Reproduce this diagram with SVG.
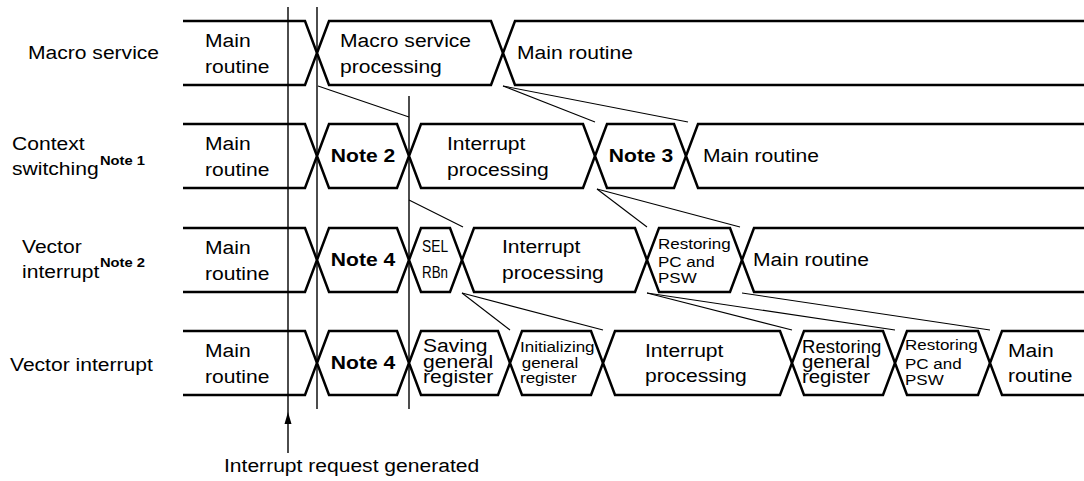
<svg xmlns="http://www.w3.org/2000/svg" width="1084" height="481" viewBox="0 0 1084 481">
<style>
.t{font-family:"Liberation Sans",Arial,Helvetica,sans-serif;font-size:18.6px;fill:#000}
.b{font-weight:bold}
.s15{font-size:15px}
.s13{font-size:13px}
.m{text-anchor:middle}
.seg{fill:#fff;stroke:#000;stroke-width:2.5;stroke-linejoin:miter}
.conn{stroke:#000;stroke-width:1.1;fill:none}
.vl{stroke:#000;stroke-width:1.4;fill:none}
</style>
<defs>
<marker id="ah" viewBox="0 0 8 12" refX="4" refY="0" markerWidth="8" markerHeight="12" markerUnits="userSpaceOnUse" orient="auto-start-reverse">
<path d="M0,12 L4,0 L8,12 Z" fill="#000"/>
</marker>
</defs>
<rect width="1084" height="481" fill="#fff"/>

<g id="row-labels">
<text class="t" transform="translate(28,0) scale(1.133,1)" x="0" y="59.5">Macro service</text>
<text class="t" transform="translate(12,0) scale(1.133,1)"><tspan x="0" y="150.5">Context</tspan><tspan x="0" y="175">switching</tspan></text>
<text class="t b s13" transform="translate(100,0) scale(1.133,1)" x="0" y="165">Note 1</text>
<text class="t" transform="translate(22,0) scale(1.133,1)"><tspan x="0" y="253">Vector</tspan><tspan x="0" y="278">interrupt</tspan></text>
<text class="t b s13" transform="translate(100,0) scale(1.133,1)" x="0" y="267">Note 2</text>
<text class="t" transform="translate(10,0) scale(1.133,1)" x="0" y="371">Vector interrupt</text>
</g>

<!-- Row 1: Macro service -->
<g id="r1-main1">
<path class="seg" d="M183,21 L305,21 L317,53 L305,85 L183,85"/>
<text class="t" transform="translate(205,0) scale(1.133,1)"><tspan x="0" y="47">Main</tspan><tspan x="0" y="73">routine</tspan></text>
</g>
<g id="r1-macro">
<polygon class="seg" points="317,53 329,21 491,21 503,53 491,85 329,85"/>
<text class="t" transform="translate(340,0) scale(1.133,1)"><tspan x="0" y="47">Macro service</tspan><tspan x="0" y="73">processing</tspan></text>
</g>
<g id="r1-main2">
<path class="seg" d="M1086,21 L515,21 L503,53 L515,85 L1086,85"/>
<text class="t" transform="translate(517,0) scale(1.133,1)" x="0" y="59.5">Main routine</text>
</g>

<!-- Row 2: Context switching -->
<g id="r2-main1">
<path class="seg" d="M183,124 L305,124 L317,156 L305,188 L183,188"/>
<text class="t" transform="translate(205,0) scale(1.133,1)"><tspan x="0" y="150">Main</tspan><tspan x="0" y="176">routine</tspan></text>
</g>
<g id="r2-note2">
<polygon class="seg" points="317,156 329,124 397,124 409,156 397,188 329,188"/>
<text class="t b m" transform="translate(363,0) scale(1.133,1)" x="0" y="162.5">Note 2</text>
</g>
<g id="r2-intr">
<polygon class="seg" points="409,156 421,124 583,124 595,156 583,188 421,188"/>
<text class="t" transform="translate(447,0) scale(1.133,1)"><tspan x="0" y="150">Interrupt</tspan><tspan x="0" y="176">processing</tspan></text>
</g>
<g id="r2-note3">
<polygon class="seg" points="595,156 607,124 674,124 686,156 674,188 607,188"/>
<text class="t b m" transform="translate(641,0) scale(1.133,1)" x="0" y="162.5">Note 3</text>
</g>
<g id="r2-main2">
<path class="seg" d="M1086,124 L698,124 L686,156 L698,188 L1086,188"/>
<text class="t" transform="translate(703,0) scale(1.133,1)" x="0" y="162.5">Main routine</text>
</g>

<!-- Row 3: Vector interrupt (Note 2) -->
<g id="r3-main1">
<path class="seg" d="M183,228 L305,228 L317,260 L305,292 L183,292"/>
<text class="t" transform="translate(205,0) scale(1.133,1)"><tspan x="0" y="254">Main</tspan><tspan x="0" y="280">routine</tspan></text>
</g>
<g id="r3-note4">
<polygon class="seg" points="317,260 329,228 397,228 409,260 397,292 329,292"/>
<text class="t b m" transform="translate(363,0) scale(1.133,1)" x="0" y="266.5">Note 4</text>
</g>
<g id="r3-selrb">
<polygon class="seg" points="409,260 421,228 450,228 462,260 450,292 421,292"/>
<text class="t" style="font-size:17px" transform="translate(422,0) scale(1.133,1)" x="0" y="252" textLength="23" lengthAdjust="spacingAndGlyphs">SEL</text>
<text class="t" style="font-size:17px" transform="translate(422,0) scale(1.133,1)" x="0" y="278" textLength="23" lengthAdjust="spacingAndGlyphs">RBn</text>
</g>
<g id="r3-intr">
<polygon class="seg" points="462,260 474,228 635,228 647,260 635,292 474,292"/>
<text class="t" transform="translate(502,0) scale(1.133,1)"><tspan x="0" y="253">Interrupt</tspan><tspan x="0" y="279">processing</tspan></text>
</g>
<g id="r3-restpc">
<polygon class="seg" points="647,260 659,228 730,228 742,260 730,292 659,292"/>
<text class="t s15" transform="translate(658,0) scale(1.133,1)"><tspan x="0" y="249">Restoring</tspan><tspan x="0" y="267">PC and</tspan><tspan x="0" y="283">PSW</tspan></text>
</g>
<g id="r3-main2">
<path class="seg" d="M1086,228 L754,228 L742,260 L754,292 L1086,292"/>
<text class="t" transform="translate(753,0) scale(1.133,1)" x="0" y="266.5">Main routine</text>
</g>

<!-- Row 4: Vector interrupt -->
<g id="r4-main1">
<path class="seg" d="M183,331 L305,331 L317,363 L305,395 L183,395"/>
<text class="t" transform="translate(205,0) scale(1.133,1)"><tspan x="0" y="357">Main</tspan><tspan x="0" y="383">routine</tspan></text>
</g>
<g id="r4-note4">
<polygon class="seg" points="317,363 329,331 397,331 409,363 397,395 329,395"/>
<text class="t b m" transform="translate(363,0) scale(1.133,1)" x="0" y="369.5">Note 4</text>
</g>
<g id="r4-saving">
<polygon class="seg" points="409,363 421,331 498,331 510,363 498,395 421,395"/>
<text class="t" transform="translate(423,0) scale(1.133,1)"><tspan x="0" y="352">Saving</tspan><tspan x="0" y="368">general</tspan><tspan x="0" y="383">register</tspan></text>
</g>
<g id="r4-init">
<polygon class="seg" points="510,363 522,331 591,331 603,363 591,395 522,395"/>
<text class="t s15" transform="translate(520,0) scale(1.133,1)"><tspan x="0" y="352">Initializing</tspan><tspan x="1.5" y="368">general</tspan><tspan x="0" y="383">register</tspan></text>
</g>
<g id="r4-intr">
<polygon class="seg" points="603,363 615,331 780,331 792,363 780,395 615,395"/>
<text class="t" transform="translate(645,0) scale(1.133,1)"><tspan x="0" y="357">Interrupt</tspan><tspan x="0" y="382">processing</tspan></text>
</g>
<g id="r4-restgr">
<polygon class="seg" points="792,363 804,331 883,331 895,363 883,395 804,395"/>
<text class="t" style="font-size:18px" transform="translate(802,0) scale(1.133,1)" x="0" y="353" textLength="70" lengthAdjust="spacingAndGlyphs">Restoring</text>
<text class="t" style="font-size:18px" transform="translate(802,0) scale(1.133,1)"><tspan x="0" y="368">general</tspan><tspan x="0" y="383.5">register</tspan></text>
</g>
<g id="r4-restpc">
<polygon class="seg" points="895,363 907,331 978,331 990,363 978,395 907,395"/>
<text class="t s15" transform="translate(905,0) scale(1.133,1)"><tspan x="0" y="350.5">Restoring</tspan><tspan x="0" y="369">PC and</tspan><tspan x="0" y="385">PSW</tspan></text>
</g>
<g id="r4-main2">
<path class="seg" d="M1086,331 L1002,331 L990,363 L1002,395 L1086,395"/>
<text class="t" transform="translate(1008,0) scale(1.133,1)"><tspan x="0" y="357.5">Main</tspan><tspan x="0" y="382.5">routine</tspan></text>
</g>

<g id="connectors">
<line class="vl" x1="288" y1="7" x2="288" y2="453"/>
<path d="M288,412 L284.5,424 L291.5,424 Z" fill="#000"/>
<line class="vl" x1="317" y1="7" x2="317" y2="409"/>
<line class="vl" x1="409" y1="96" x2="409" y2="409"/>
<line class="conn" x1="318" y1="86" x2="409" y2="117"/>
<line class="conn" x1="503" y1="86" x2="595" y2="122"/>
<line class="conn" x1="503" y1="86" x2="688" y2="122"/>
<line class="conn" x1="409" y1="200" x2="463" y2="227"/>
<line class="conn" x1="597" y1="189" x2="647" y2="227"/>
<line class="conn" x1="597" y1="189" x2="740" y2="227"/>
<line class="conn" x1="462" y1="293" x2="510" y2="330"/>
<line class="conn" x1="462" y1="293" x2="603" y2="330"/>
<line class="conn" x1="647" y1="293" x2="792" y2="330"/>
<line class="conn" x1="647" y1="293" x2="895" y2="330"/>
<line class="conn" x1="742" y1="293" x2="990" y2="330"/>
</g>

<g id="irq-label">
<text class="t" transform="translate(224,0) scale(1.133,1)" x="0" y="472">Interrupt request generated</text>
</g>
</svg>
